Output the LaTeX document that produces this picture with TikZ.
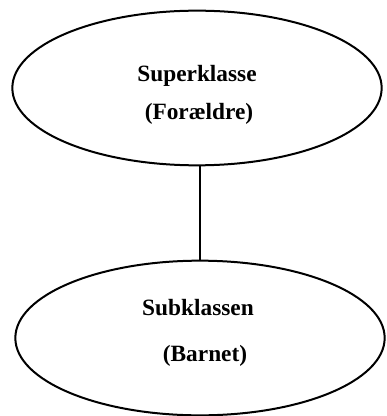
\documentclass[tikz,border=0pt]{standalone}
\usepackage{fontspec}
\setmainfont{Liberation Serif}
\usetikzlibrary{shapes.geometric}

\tikzset{
    klasse/.style={draw, ellipse, line width=1.5pt, minimum width=277pt, minimum height=116pt, inner sep=0pt},
    label/.style={font=\fontsize{17.5}{20}\selectfont\bfseries, anchor=base}
}

\begin{document}
\begin{tikzpicture}[x=0.75pt, y=-0.75pt]
    \useasboundingbox (0,0) rectangle (386,416);

    % Superklasse
    \node[klasse] (super) at (197,88) {};
    \node[label] (superA) at (197,82) {Superklasse};
    \node[label] (superB) at (199,120) {(Forældre)};

    % Subklasse
    \node[klasse] (sub) at (200,338) {};
    \node[label] (subA) at (198,315) {Subklassen};
    \node[label] (subB) at (205,361) {(Barnet)};

    % Arv
    \draw[line width=2pt] (super.south -| sub.north) -- (sub.north);
\end{tikzpicture}
\end{document}
